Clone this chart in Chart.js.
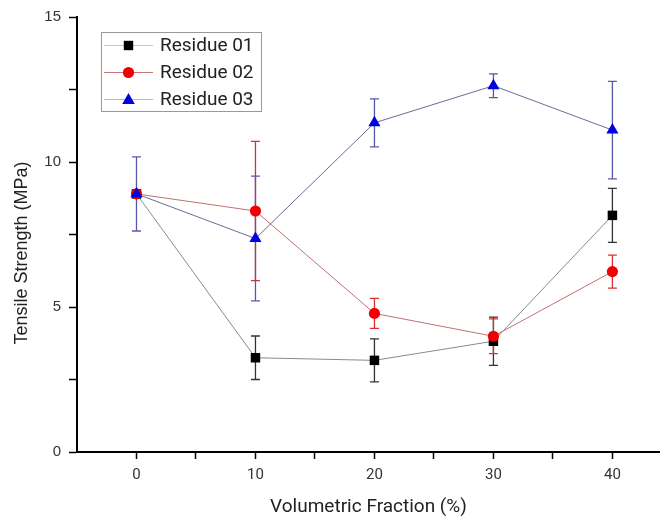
<!DOCTYPE html>
<html>
<head>
<meta charset="utf-8">
<script src="https://cdn.jsdelivr.net/npm/chart.js@4/dist/chart.umd.min.js"></script>
<style>
  html, body { margin: 0; padding: 0; background: #fff; }
  #wrap { width: 660px; height: 523px; }
</style>
</head>
<body>
<div id="wrap"><canvas id="myChart" width="660" height="523"></canvas></div>
<script>
// volumetric fraction (%)
const fractions = [0, 10, 20, 30, 40]

// tensile strength (MPa) and error bars
const residue01 = [8.9, 3.25, 3.16, 3.82, 8.16]
const residue01Err = [0.1, 0.75, 0.74, 0.83, 0.93]
const residue02 = [8.9, 8.31, 4.78, 3.99, 6.22]
const residue02Err = [0.1, 2.4, 0.52, 0.6, 0.57]
const residue03 = [8.9, 7.36, 11.35, 12.63, 11.1]
const residue03Err = [1.28, 2.15, 0.83, 0.41, 1.68]

const seriesNames = ['Residue 01', 'Residue 02', 'Residue 03']
const xTicks = [0, 5, 10, 15, 20, 25, 30, 35, 40]
const yTicks = [0, 2.5, 5, 7.5, 10, 12.5, 15]
const yTitle = 'Tensile Strength (MPa)'

const toPoints = (vals) => vals.map((v, i) => ({x: fractions[i], y: v}))

//error bars drawn under the markers
const errorBars = {
	id: 'errorBars',
	beforeDatasetsDraw(chart) {
		const ctx = chart.ctx
		const xs = chart.scales.x
		const ys = chart.scales.y
		chart.data.datasets.forEach(ds => {
			ctx.save()
			ctx.strokeStyle = ds.errColor
			ctx.lineWidth = 1.3
			ds.data.forEach((p, i) => {
				const e = ds.errors[i]
				const px = xs.getPixelForValue(p.x)
				const top = ys.getPixelForValue(p.y + e)
				const bot = ys.getPixelForValue(p.y - e)
				ctx.beginPath()
				ctx.moveTo(px, top); ctx.lineTo(px, bot)
				ctx.moveTo(px - 4.5, top); ctx.lineTo(px + 4.5, top)
				ctx.moveTo(px - 4.5, bot); ctx.lineTo(px + 4.5, bot)
				ctx.stroke()
			})
			ctx.restore()
		})
	}
}

const drawMarker = (ctx, style, x, y, color) => {
	ctx.fillStyle = color
	ctx.beginPath()
	if (style === 'rect') {
		ctx.rect(x - 4.7, y - 4.7, 9.4, 9.4)
	} else if (style === 'circle') {
		ctx.arc(x, y, 5.6, 0, Math.PI * 2)
	} else {
		ctx.moveTo(x, y - 6.5)
		ctx.lineTo(x + 6.3, y + 4.5)
		ctx.lineTo(x - 6.3, y + 4.5)
		ctx.closePath()
	}
	ctx.fill()
}

//legend box like the origin one + y title placed a bit lower than center
const boxLegend = {
	id: 'boxLegend',
	afterDraw(chart) {
		const ctx = chart.ctx
		ctx.save()
		ctx.fillStyle = '#fff'
		ctx.fillRect(101.5, 32.5, 160, 79)
		ctx.strokeStyle = '#9a9a9a'
		ctx.lineWidth = 1
		ctx.strokeRect(101.5, 32.5, 160, 79)
		const rows = [45.5, 72.5, 99.5]
		chart.data.datasets.forEach((ds, i) => {
			const y = rows[i]
			ctx.strokeStyle = ds.legendLine
			ctx.lineWidth = 1.2
			ctx.beginPath()
			ctx.moveTo(104, y); ctx.lineTo(153, y)
			ctx.stroke()
			drawMarker(ctx, ds.pointStyle, 128.5, y, ds.pointBackgroundColor)
			ctx.fillStyle = '#222'
			ctx.font = '19px Roboto'
			ctx.textBaseline = 'middle'
			ctx.textAlign = 'left'
			ctx.fillText(seriesNames[i], 160, y + 1)
		})
		ctx.translate(22, 253)
		ctx.rotate(-Math.PI / 2)
		ctx.fillStyle = '#222'
		ctx.font = '18px "Liberation Sans"'
		ctx.textAlign = 'center'
		ctx.textBaseline = 'middle'
		ctx.fillText(yTitle, 0, 0)
		ctx.restore()
	}
}

let ctx = document.getElementById('myChart').getContext('2d')

let data = {
	datasets: [{
		label: seriesNames[0],
		data: toPoints(residue01),
		errors: residue01Err,
		errColor: '#333',
		legendLine: '#c8c8c8',
		borderColor: '#8a8a8a',
		borderWidth: 1,
		pointStyle: 'rect',
		pointRadius: 6.7,
		pointBackgroundColor: '#000',
		pointBorderWidth: 0,
		order: 2
	}, {
		label: seriesNames[1],
		data: toPoints(residue02),
		errors: residue02Err,
		errColor: '#d83030',
		legendLine: '#c87878',
		borderColor: '#c27070',
		borderWidth: 1,
		pointStyle: 'circle',
		pointRadius: 5.6,
		pointBackgroundColor: '#f00000',
		pointBorderWidth: 0,
		order: 1
	}, {
		label: seriesNames[2],
		data: toPoints(residue03),
		errors: residue03Err,
		errColor: '#5858a8',
		legendLine: '#b8b8d8',
		borderColor: '#6a6a9a',
		borderWidth: 1,
		pointStyle: 'triangle',
		pointRadius: 7,
		pointBackgroundColor: '#0000e0',
		pointBorderWidth: 0,
		order: 0
	}]
}

var myChart = new Chart(ctx, {
	type: 'line',
	data: data,
	plugins: [errorBars, boxLegend],
	options: {
		responsive: false,
		animation: false,
		layout: {autoPadding: false, padding: {top: 15, right: 0, left: 0, bottom: 0}},
		plugins: {
			legend: {display: false},
			tooltip: {enabled: false}
		},
		scales: {
			x: {
				type: 'linear',
				min: -5,
				max: 44,
				afterBuildTicks: s => { s.ticks = xTicks.map(v => ({value: v})) },
				afterFit: s => { s.height = 71 },
				border: {color: '#000', width: 2},
				grid: {drawOnChartArea: false, tickLength: 7, tickColor: '#000', tickWidth: 1.5},
				ticks: {
					color: '#333',
					font: {family: 'Roboto', size: 15},
					padding: 7,
					maxRotation: 0,
					callback: v => v % 10 === 0 ? v : ''
				},
				title: {
					display: true,
					text: 'Volumetric Fraction (%)',
					color: '#222',
					font: {family: 'Roboto', size: 19},
					padding: {top: 0, bottom: 4}
				}
			},
			y: {
				type: 'linear',
				min: 0,
				max: 15,
				afterBuildTicks: s => { s.ticks = yTicks.map(v => ({value: v})) },
				afterFit: s => { s.width = 77 },
				border: {color: '#000', width: 2},
				grid: {drawOnChartArea: false, tickLength: 8, tickColor: '#000', tickWidth: 1.5},
				ticks: {
					color: '#333',
					font: {family: 'Liberation Sans', size: 15},
					padding: 8,
					callback: v => v % 5 === 0 ? v : ''
				},
				title: {display: false}
			}
		}
	}
})
</script>
</body>
</html>
